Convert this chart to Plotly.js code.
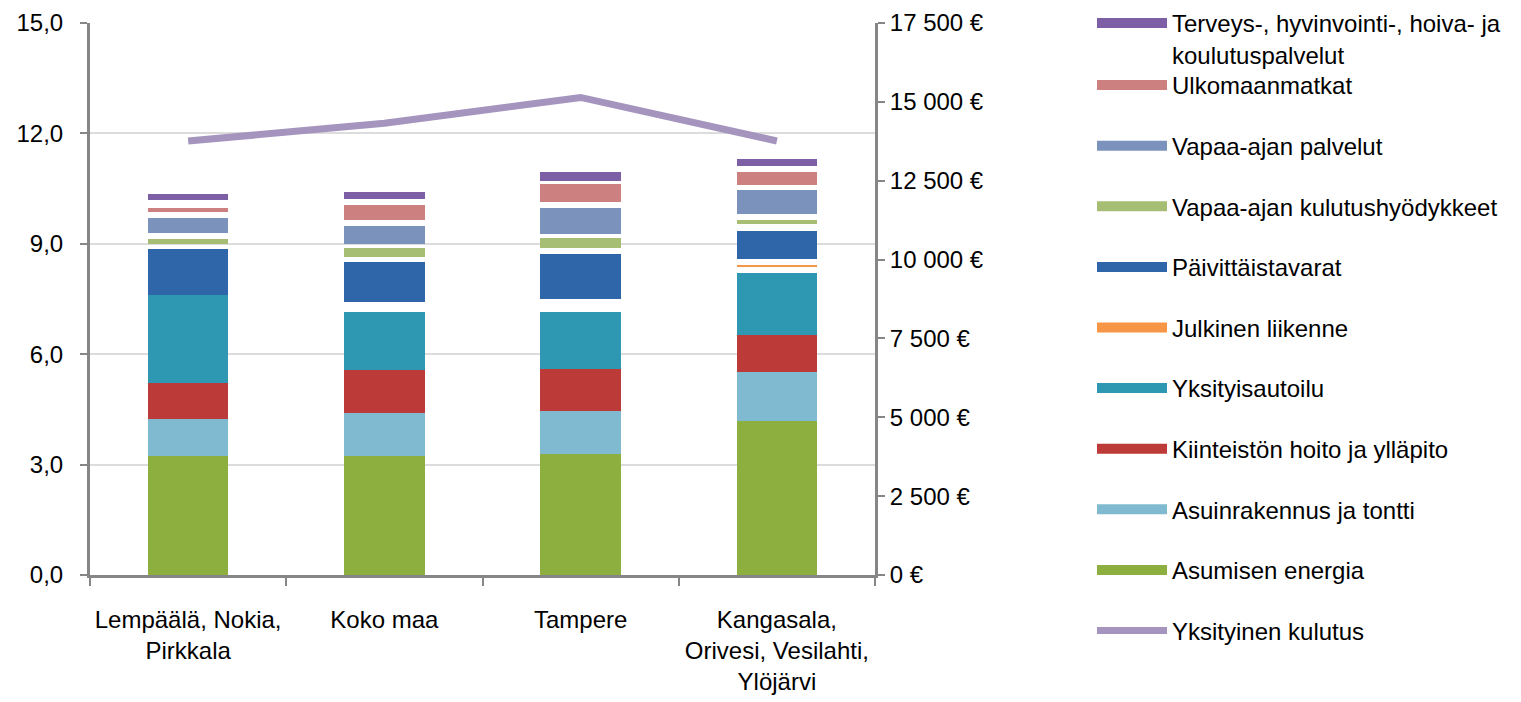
<!DOCTYPE html>
<html>
<head>
<meta charset="utf-8">
<script src="https://cdn.plot.ly/plotly-3.0.1.min.js"></script>
<style>html,body{margin:0;padding:0;background:#fff;}#chart{width:1521px;height:702px;}</style>
</head>
<body>
<div id="chart"></div>
<script>
// Categories
const categories = ["Lempäälä, Nokia,<br>Pirkkala", "Koko maa", "Tampere", "Kangasala,<br>Orivesi, Vesilahti,<br>Ylöjärvi"];

// Stacked series (left axis), bottom to top
const asumisenEnergia = [3.23, 3.23, 3.28, 4.18];
const asuinrakennus = [1.01, 1.16, 1.18, 1.35];
const kiinteisto = [0.99, 1.18, 1.14, 0.99];
const yksityisautoilu = [2.38, 1.59, 1.56, 1.70];
const valiA = [0, 0, 0, 0.14];
const julkinenLiikenne = [0, 0, 0, 0.06];
const valiB = [0, 0.27, 0.33, 0.16];
const paivittaistavarat = [1.25, 1.08, 1.23, 0.77];
const valiC = [0.13, 0.12, 0.16, 0.19];
const vapaaKulutus = [0.13, 0.25, 0.27, 0.11];
const valiD = [0.17, 0.12, 0.12, 0.16];
const vapaaPalvelut = [0.40, 0.48, 0.71, 0.65];
const valiE = [0.18, 0.17, 0.16, 0.14];
const ulkomaanmatkat = [0.09, 0.40, 0.48, 0.36];
const valiF = [0.22, 0.16, 0.09, 0.15];
const terveys = [0.17, 0.21, 0.25, 0.19];

// Line series (right axis)
const yksityinenKulutus = [13760, 14320, 15140, 13760];

// Tick labels
const leftTicks = [0, 3, 6, 9, 12, 15];
const rightTicks = [0, 2500, 5000, 7500, 10000, 12500, 15000, 17500];
const rightTickLabels = ["0 €", "2 500 €", "5 000 €", "7 500 €", "10 000 €", "12 500 €", "15 000 €", "17 500 €"];

const FONT = '"Liberation Sans", Arial, sans-serif';
const FS = 24;

const data = [];
// stacked bars (no legend entries of their own)
function bar(name, y, color) {
  data.push({
    type: 'bar', name: name, x: categories, y: y,
    marker: {color: color, line: {width: 0}},
    legendgroup: name, showlegend: false,
    hoverinfo: color ? 'x+y+name' : 'skip'
  });
}
// legend keys drawn as wide bars (one empty point, nothing plotted)
function key(name, color, rank, legend) {
  data.push({
    type: 'scatter', mode: 'lines', name: name, x: [categories[0]], y: [null],
    line: {color: color, width: 12}, legendgroup: name, legendrank: rank,
    legend: legend || 'legend2', hoverinfo: 'skip'
  });
}
const gap = 'rgba(255,255,255,0)';

bar('Asumisen energia', asumisenEnergia, '#8CAF40');
bar('Asuinrakennus ja tontti', asuinrakennus, '#7FBAD0');
bar('Kiinteistön hoito ja ylläpito', kiinteisto, '#BC3A38');
bar('Yksityisautoilu', yksityisautoilu, '#2E97B2');
bar('väli A', valiA, null);
bar('Julkinen liikenne', julkinenLiikenne, '#F79646');
bar('väli B', valiB, null);
bar('Päivittäistavarat', paivittaistavarat, '#2F66A9');
bar('väli C', valiC, null);
bar('Vapaa-ajan kulutushyödykkeet', vapaaKulutus, '#A6BE74');
bar('väli D', valiD, null);
bar('Vapaa-ajan palvelut', vapaaPalvelut, '#7B92BC');
bar('väli E', valiE, null);
bar('Ulkomaanmatkat', ulkomaanmatkat, '#CC8180');
bar('väli F', valiF, null);
bar('Terveys-, hyvinvointi-, hoiva- ja<br>koulutuspalvelut', terveys, '#7D5FA6');
data.forEach(t => { if (!t.marker.color) t.marker.color = gap; });

data.push({type: 'scatter', mode: 'lines', name: 'Yksityinen kulutus', x: categories, y: yksityinenKulutus,
   yaxis: 'y2', line: {color: '#A594BE', width: 7}, legend: 'legend2', legendgroup: 'kulutus', legendrank: 10});

key('Terveys-, hyvinvointi-, hoiva- ja<br>koulutuspalvelut', '#7D5FA6', 0, 'legend');
key('Ulkomaanmatkat', '#CC8180', 1);
key('Vapaa-ajan palvelut', '#7B92BC', 2);
key('Vapaa-ajan kulutushyödykkeet', '#A6BE74', 3);
key('Päivittäistavarat', '#2F66A9', 4);
key('Julkinen liikenne', '#F79646', 5);
key('Yksityisautoilu', '#2E97B2', 6);
key('Kiinteistön hoito ja ylläpito', '#BC3A38', 7);
key('Asuinrakennus ja tontti', '#7FBAD0', 8);
key('Asumisen energia', '#8CAF40', 9);

const L = 90, R = 875, T = 23, B = 575;
const px = v => (v - L) / (R - L);
const py = v => (B - v) / (B - T);

const layout = {
  width: 1521, height: 702,
  margin: {l: L, r: 1521 - R, t: T, b: 702 - B, autoexpand: false},
  paper_bgcolor: '#ffffff', plot_bgcolor: '#ffffff',
  font: {family: FONT, size: FS, color: '#000000'},
  barmode: 'stack', bargap: 0.59,
  showlegend: true,
  xaxis: {
    type: 'category', showline: true, linecolor: '#868686', linewidth: 3,
    ticks: 'outside', tickson: 'boundaries', ticklen: 8, tickwidth: 2, tickcolor: '#868686',
    ticklabelstandoff: 21, tickangle: 0,
    showgrid: false, tickfont: {family: FONT, size: FS, color: '#000'}
  },
  yaxis: {
    range: [0, 15], tickvals: leftTicks, tickformat: '.1f',
    showline: true, linecolor: '#868686', linewidth: 3,
    ticks: 'outside', ticklen: 7, tickwidth: 2, tickcolor: '#868686',
    ticklabelstandoff: 12,
    showgrid: true, gridcolor: '#DCDCDC', gridwidth: 2, zeroline: false,
    tickfont: {family: FONT, size: FS, color: '#000'}
  },
  yaxis2: {
    overlaying: 'y', side: 'right', range: [0, 17500],
    tickmode: 'array', tickvals: rightTicks, ticktext: rightTickLabels,
    showline: true, linecolor: '#868686', linewidth: 3,
    ticks: 'outside', ticklen: 7, tickwidth: 2, tickcolor: '#868686',
    showgrid: false, zeroline: false,
    tickfont: {family: FONT, size: FS, color: '#000'}
  },
  separators: ', ',
  legend: {
    x: px(1092), xanchor: 'left', y: py(1), yanchor: 'top',
    bgcolor: 'rgba(255,255,255,0)', itemwidth: 70, valign: 'top',
    font: {family: FONT, size: FS, color: '#000'}
  },
  legend2: {
    x: px(1092), xanchor: 'left', y: py(63), yanchor: 'top',
    bgcolor: 'rgba(255,255,255,0)', itemwidth: 70, maxheight: 660,
    traceorder: 'grouped', tracegroupgap: 26.4,
    font: {family: FONT, size: FS, color: '#000'}
  }
};

Plotly.newPlot('chart', data, layout, {displayModeBar: false, responsive: false});
</script>
</body>
</html>
